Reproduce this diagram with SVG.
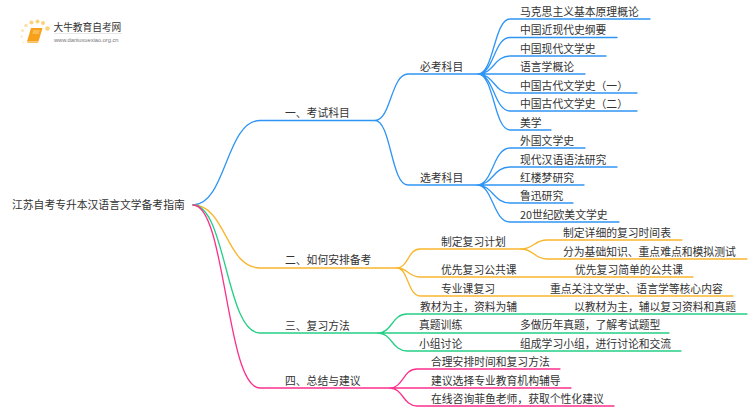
<svg xmlns="http://www.w3.org/2000/svg" width="750" height="410" viewBox="0 0 750 410">
<style>
text{font-family:"Noto Sans CJK SC","Liberation Sans",sans-serif;font-size:10.8px;fill:#333}
.c{fill:none;stroke-width:1.3;stroke-linecap:round}
.b{stroke:#2f95f5}.o{stroke:#f9b52c}.g{stroke:#24cf85}.p{stroke:#fb2f8c}
</style>
<rect width="750" height="410" fill="#fff"/>
<g id="logo">
<g fill="#fbd27a"><circle cx="31.500" cy="22.500" r="2"/><circle cx="37.500" cy="21.500" r="2"/><circle cx="43" cy="23" r="2"/><circle cx="26" cy="25.500" r="1.700" opacity=".7"/><circle cx="22.500" cy="30.500" r="1.500" opacity=".6"/><circle cx="47.500" cy="28.500" r="2.300"/><circle cx="21.500" cy="36.500" r="1.300" opacity=".4"/><circle cx="23.500" cy="42.500" r="1.200" opacity=".3"/></g>
<path d="M31 28H42.500L38.500 41.500H27Z" fill="#f7a11a"/><path d="M27 41.500H38.500L38 43H27.500Z" fill="#f6c063"/><path d="M33 31H39.500M32.500 33H39" stroke="#fde2a8" stroke-width=".8"/>
<text x="53.500" y="31" style="font-size:9.700px;fill:#333">大牛教育自考网</text>
<path d="M54 33.500H122" stroke="#ddd" stroke-width=".7"/>
<text x="54" y="41.500" style="font-size:5.700px;fill:#777;font-family:'Liberation Sans',sans-serif">www.daniuxuexiao.org.cn</text>
</g>
<g id="connectors">
<path class="c b" d="M193 205C226 205 226 120.500 260 120.500H375"/>
<path class="c b" d="M375 120.500C391 120.500 391 74 408 74H478M375 120.500C391 120.500 391 185 408 185H477"/>
<path class="c b" d="M478 74C494 74 494 19 510 19H650M478 74C494 74 494 37.500 510 37.500H617M478 74C494 74 494 56 510 56H606M478 74H585M478 74C494 74 494 93 510 93H637M478 74C494 74 494 111 510 111H637M478 74C494 74 494 130 510 130H551"/>
<path class="c b" d="M477 185C493 185 493 148 510 148H585M477 185C493 185 493 167 510 167H617M477 185H584M477 185C493 185 493 203 510 203H573M477 185C493 185 493 222 510 222H619"/>
<path class="c o" d="M193 205C226 205 226 268 260 268H397"/>
<path class="c o" d="M397 268C408 268 408 249 420 249H521M397 268C408 268 408 277 420 277H693M397 268C408 268 408 296 420 296H733"/>
<path class="c o" d="M521 249C534 249 534 240 547 240H682M521 249C534 249 534 259 547 259H747"/>
<path class="c g" d="M193 205C226 205 226 333 260 333H378"/>
<path class="c g" d="M378 333C392 333 392 314 407 314H747M378 333H669M378 333C392 333 392 351 407 351H681"/>
<path class="c p" d="M193 205C226 205 226 388 260 388H390"/>
<path class="c p" d="M390 388C403 388 403 369 417 369H560M390 388H571M390 388C403 388 403 406 417 406H614"/>
</g>
<g id="root"><text x="12" y="209">江苏自考专升本汉语言文学备考指南</text></g>
<g id="n1"><text x="285" y="117">一、考试科目</text></g>
<g id="n1a"><text x="420" y="71">必考科目</text></g>
<g id="n1a1"><text x="520" y="16">马克思主义基本原理概论</text></g>
<g id="n1a2"><text x="520" y="34">中国近现代史纲要</text></g>
<g id="n1a3"><text x="520" y="52.500">中国现代文学史</text></g>
<g id="n1a4"><text x="520" y="71">语言学概论</text></g>
<g id="n1a5"><text x="520" y="89.500">中国古代文学史（一）</text></g>
<g id="n1a6"><text x="520" y="108">中国古代文学史（二）</text></g>
<g id="n1a7"><text x="520" y="126.500">美学</text></g>
<g id="n1b"><text x="420" y="182">选考科目</text></g>
<g id="n1b1"><text x="520" y="145">外国文学史</text></g>
<g id="n1b2"><text x="520" y="163.500">现代汉语语法研究</text></g>
<g id="n1b3"><text x="520" y="182">红楼梦研究</text></g>
<g id="n1b4"><text x="520" y="200">鲁迅研究</text></g>
<g id="n1b5"><text x="520" y="218.500">20世纪欧美文学史</text></g>
<g id="n2"><text x="285" y="264">二、如何安排备考</text></g>
<g id="n2a"><text x="441" y="246">制定复习计划</text></g>
<g id="n2a1"><text x="563" y="237">制定详细的复习时间表</text></g>
<g id="n2a2"><text x="563" y="255.500">分为基础知识、重点难点和模拟测试</text></g>
<g id="n2b"><text x="441" y="274">优先复习公共课</text></g>
<g id="n2b1"><text x="575" y="274">优先复习简单的公共课</text></g>
<g id="n2c"><text x="441" y="292.500">专业课复习</text></g>
<g id="n2c1"><text x="550" y="292.500">重点关注文学史、语言学等核心内容</text></g>
<g id="n3"><text x="285" y="329.500">三、复习方法</text></g>
<g id="n3a"><text x="420" y="311">教材为主，资料为辅</text></g>
<g id="n3a1"><text x="574" y="311">以教材为主，辅以复习资料和真题</text></g>
<g id="n3b"><text x="419" y="329">真题训练</text></g>
<g id="n3b1"><text x="520" y="329">多做历年真题，了解考试题型</text></g>
<g id="n3c"><text x="419" y="347.500">小组讨论</text></g>
<g id="n3c1"><text x="520" y="347.500">组成学习小组，进行讨论和交流</text></g>
<g id="n4"><text x="285" y="385">四、总结与建议</text></g>
<g id="n4a"><text x="431" y="366">合理安排时间和复习方法</text></g>
<g id="n4b"><text x="431" y="384.500">建议选择专业教育机构辅导</text></g>
<g id="n4c"><text x="431" y="403">在线咨询菲鱼老师，获取个性化建议</text></g>
</svg>
